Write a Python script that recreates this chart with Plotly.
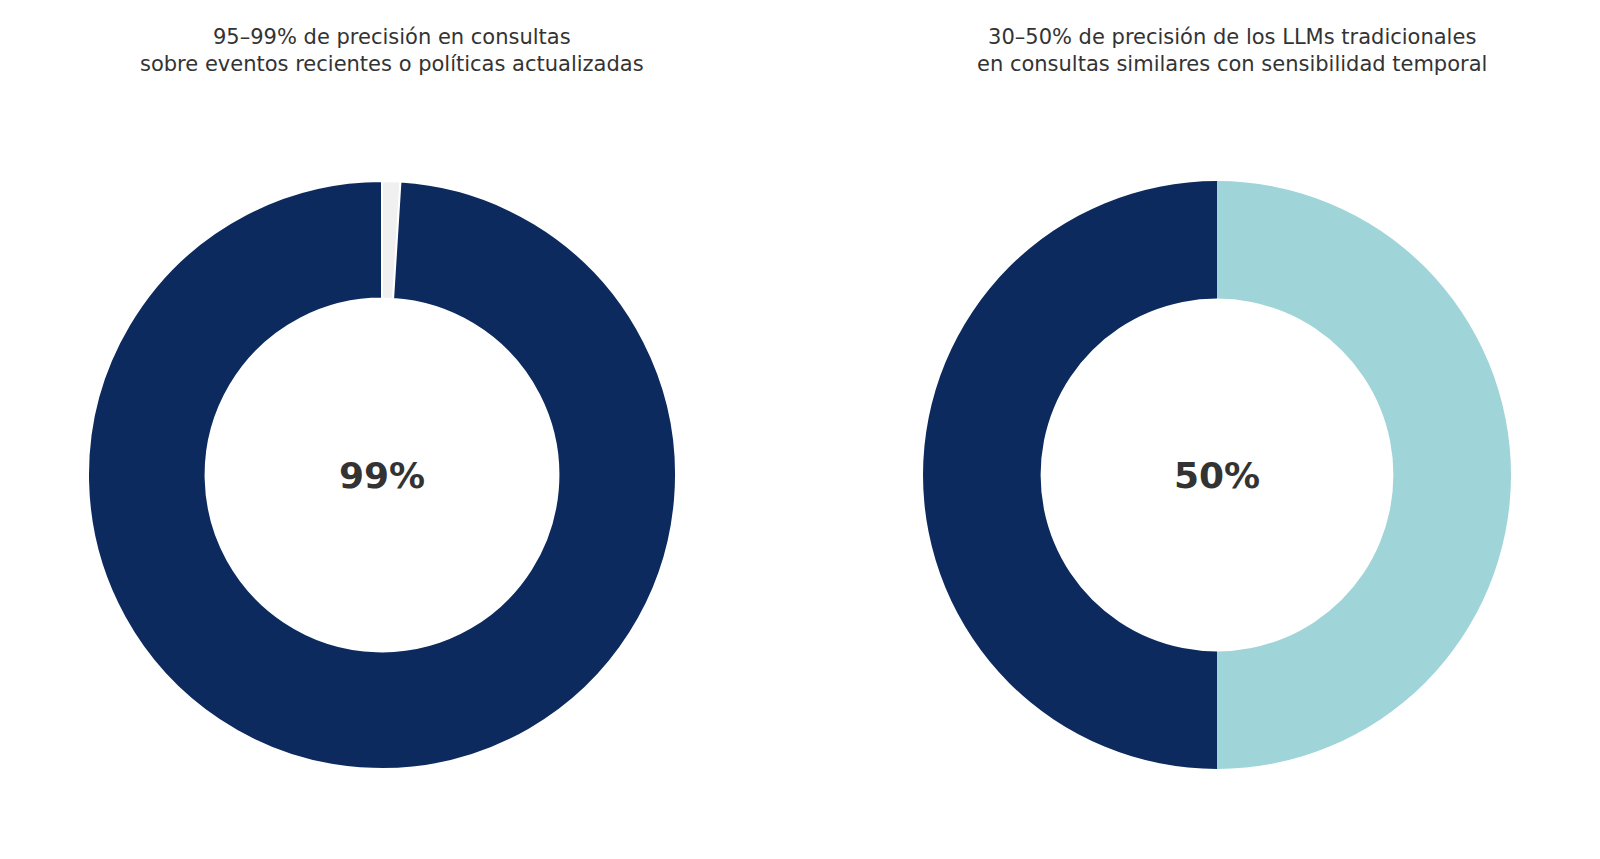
import plotly.graph_objects as go

left_labels = ["Resto", "Precisión"]
left_values = [1, 99]
right_labels = ["Resto", "Precisión"]
right_values = [50, 50]
titles = ["95–99% de precisión en consultas<br>sobre eventos recientes o políticas actualizadas",
          "30–50% de precisión de los LLMs tradicionales<br>en consultas similares con sensibilidad temporal"]
centers = ["99%", "50%"]

W, H = 1600, 859
fig = go.Figure()
fig.add_trace(go.Pie(labels=left_labels, values=left_values, hole=0.6, sort=False,
                     direction="clockwise", rotation=0,
                     marker=dict(colors=["#f0f0f0", "#0c2a5d"], line=dict(color="white", width=2)),
                     textinfo="none", hoverinfo="label+value",
                     domain=dict(x=[80/W, 668/W], y=[(H-761)/H, (H-173)/H])))
fig.add_trace(go.Pie(labels=right_labels, values=right_values, hole=0.6, sort=False,
                     direction="clockwise", rotation=0,
                     marker=dict(colors=["#9fd4d8", "#0c2a5d"], line=dict(color="white", width=0)),
                     textinfo="none", hoverinfo="label+value",
                     domain=dict(x=[915/W, 1503/W], y=[(H-761)/H, (H-173)/H])))

for cx, t, c in [(384, titles[0], centers[0]), (1224, titles[1], centers[1])]:
    fig.add_annotation(x=cx/W, y=1-43/H, xref="paper", yref="paper", text=t, showarrow=False,
                       xanchor="center", yanchor="middle",
                       font=dict(family="DejaVu Sans", size=21, color="#333333"), align="center")
for cx, c in [(374, centers[0]), (1209, centers[1])]:
    pass
fig.add_annotation(x=0.5*(80+668)/W, y=1-467/H, xref="paper", yref="paper", text="<b>99%</b>",
                   showarrow=False, xanchor="center", yanchor="middle",
                   font=dict(family="DejaVu Sans", size=36, color="#333333"))
fig.add_annotation(x=0.5*(915+1503)/W, y=1-467/H, xref="paper", yref="paper", text="<b>50%</b>",
                   showarrow=False, xanchor="center", yanchor="middle",
                   font=dict(family="DejaVu Sans", size=36, color="#333333"))

fig.update_layout(width=W, height=H, margin=dict(l=0, r=0, t=0, b=0), showlegend=False,
                  paper_bgcolor="white", plot_bgcolor="white")
fig.write_html("out.html")
